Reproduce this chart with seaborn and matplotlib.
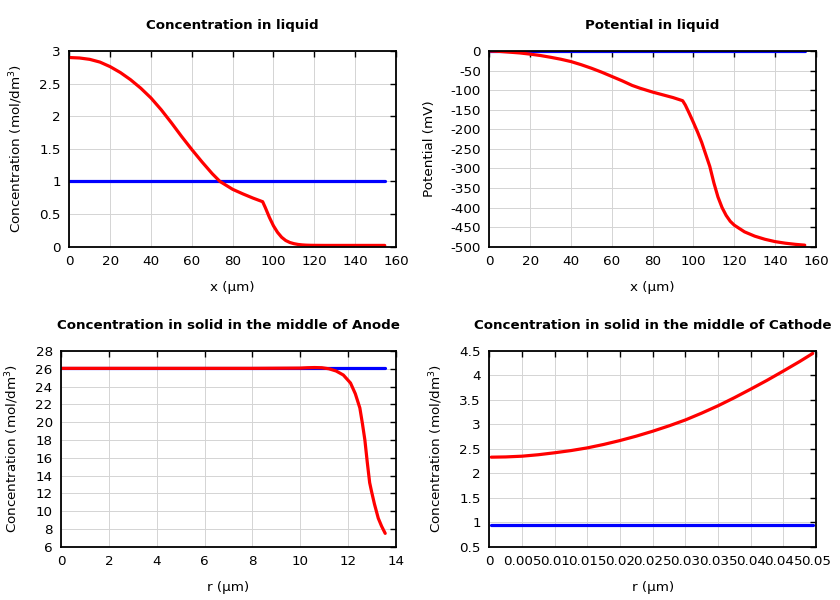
import numpy as np
import pandas as pd
import matplotlib
matplotlib.use('Agg')
import matplotlib.pyplot as plt
from matplotlib.ticker import FuncFormatter, MultipleLocator
import seaborn as sns

# 液相 x 坐标 (um)
x_liq = [0, 5, 10, 15, 20, 25, 30, 35, 40, 45, 50, 55, 60, 65, 70, 73.8, 80, 85, 90, 94.7,
         96, 98, 100, 102, 104, 106, 108, 110, 112, 114, 116, 118, 120, 125, 130, 135, 140, 145, 150, 154.5]

# 液相浓度 (mol/dm3)
c_liq_red = [2.9, 2.893, 2.872, 2.83, 2.76, 2.67, 2.56, 2.43, 2.28, 2.1, 1.9, 1.69, 1.49, 1.3, 1.12, 1.0,
             0.88, 0.81, 0.745, 0.69, 0.6, 0.45, 0.32, 0.22, 0.145, 0.095, 0.065, 0.047, 0.035, 0.028,
             0.024, 0.022, 0.021, 0.02, 0.02, 0.02, 0.02, 0.02, 0.02, 0.02]
c_liq_blue = [1.0] * len(x_liq)

# 液相电势 (mV)
phi_red = [0, -1, -3, -5, -8, -11.5, -16, -21, -27, -35, -44, -54, -65, -76, -88, -95,
           -105, -112, -119, -127, -138, -160, -183, -207, -233, -264, -295, -337, -373, -400,
           -420, -435, -445, -462, -473, -481, -487, -491, -494, -496]
phi_blue = [0.0] * len(x_liq)

# 负极中间固相浓度
r_an = [0, 2, 4, 6, 8, 10, 10.3, 10.6, 10.9, 11.2, 11.5, 11.8, 12.1, 12.3, 12.49, 12.6, 12.7,
        12.8, 12.9, 12.98, 13.1, 13.26, 13.4, 13.55]
c_an_red = [26.05, 26.05, 26.05, 26.05, 26.05, 26.08, 26.12, 26.14, 26.12, 26.0, 25.75, 25.3, 24.4,
            23.2, 21.6, 19.8, 18.0, 15.5, 13.2, 12.2, 10.8, 9.2, 8.3, 7.5]
c_an_blue = [26.05] * len(r_an)

# 正极中间固相浓度
r_ca = [0.0003, 0.0025, 0.005, 0.0075, 0.01, 0.0125, 0.015, 0.0175, 0.02, 0.0225, 0.025, 0.0275,
        0.03, 0.0325, 0.035, 0.0375, 0.04, 0.0425, 0.045, 0.0475, 0.0495]
c_ca_red = [2.33, 2.335, 2.35, 2.38, 2.42, 2.465, 2.52, 2.59, 2.67, 2.76, 2.86, 2.97,
            3.09, 3.23, 3.38, 3.545, 3.72, 3.9, 4.09, 4.285, 4.45]
c_ca_blue = [0.95] * len(r_ca)

sns.set_style('white')
plt.rcParams['font.family'] = ['DejaVu Sans']
plt.rcParams['text.color'] = 'black'
plt.rcParams['axes.labelcolor'] = 'black'

fig = plt.figure(figsize=(8.4, 6.0), dpi=100)
ax1 = fig.add_axes([0.0825, 0.5888, 0.3889, 0.3262])
ax2 = fig.add_axes([0.5825, 0.5888, 0.3889, 0.3262])
ax3 = fig.add_axes([0.0726, 0.0888, 0.3988, 0.3262])
ax4 = fig.add_axes([0.5825, 0.0888, 0.3889, 0.3262])

fmt = FuncFormatter(lambda v, p: '%g' % round(v, 6))


def draw(ax, x, blue, red, title, xlabel, ylabel, xlim, ylim, xstep, ystep):
    df = pd.DataFrame({'x': x, 'blue': blue, 'red': red})
    sns.lineplot(data=df, x='x', y='blue', ax=ax, color='#0000ff', linewidth=2.3)
    sns.lineplot(data=df, x='x', y='red', ax=ax, color='#ff0000', linewidth=2.3)
    ax.set_xlim(*xlim)
    ax.set_ylim(*ylim)
    ax.xaxis.set_major_locator(MultipleLocator(xstep))
    ax.yaxis.set_major_locator(MultipleLocator(ystep))
    ax.xaxis.set_major_formatter(fmt)
    ax.yaxis.set_major_formatter(fmt)
    ax.grid(True, color='#d4d4d4', linewidth=0.7)
    ax.set_axisbelow(True)
    ax.tick_params(direction='in', length=4, width=1, top=True, right=True,
                   labelsize=9.7, colors='black', pad=6)
    for s in ax.spines.values():
        s.set_color('black')
        s.set_linewidth(1.3)
    ax.set_title(title, fontsize=9.6, fontweight='bold', pad=15.5, color='black')
    ax.set_xlabel(xlabel, fontsize=9.7, labelpad=9)
    ax.set_ylabel(ylabel, fontsize=9.7, labelpad=10.5)


conc_label = 'Concentration (mol/dm$^3$)'
draw(ax1, x_liq, c_liq_blue, c_liq_red, 'Concentration in liquid', 'x (\u00b5m)',
     conc_label, (0, 160), (0, 3), 20, 0.5)
draw(ax2, x_liq, phi_blue, phi_red, 'Potential in liquid', 'x (\u00b5m)',
     'Potential (mV)', (0, 160), (-500, 0), 20, 50)
draw(ax3, r_an, c_an_blue, c_an_red, 'Concentration in solid in the middle of Anode', 'r (\u00b5m)',
     conc_label, (0, 14), (6, 28), 2, 2)
draw(ax4, r_ca, c_ca_blue, c_ca_red, 'Concentration in solid in the middle of Cathode', 'r (\u00b5m)',
     conc_label, (0, 0.05), (0.5, 4.5), 0.005, 0.5)

fig.savefig('out.png', dpi=100)
